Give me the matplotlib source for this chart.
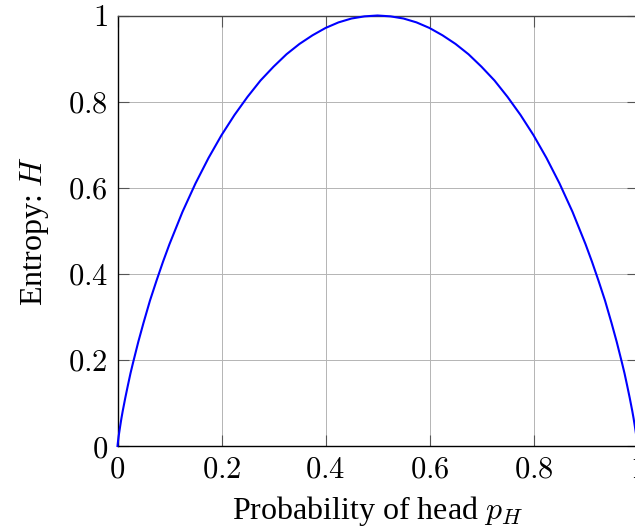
import matplotlib
matplotlib.use("Agg")
import matplotlib.pyplot as plt
from matplotlib.ticker import FuncFormatter

# binary entropy curve
p_head = [0, 0.001, 0.0025, 0.005, 0.0075, 0.01, 0.015, 0.02, 0.025, 0.03, 0.04,
          0.05, 0.0625, 0.075, 0.0875, 0.1, 0.125, 0.15, 0.175, 0.2, 0.225,
          0.25, 0.275, 0.3, 0.325, 0.35, 0.375, 0.4, 0.425, 0.45, 0.475, 0.5,
          0.525, 0.55, 0.575, 0.6, 0.625, 0.65, 0.675, 0.7, 0.725, 0.75,
          0.775, 0.8, 0.825, 0.85, 0.875, 0.9, 0.9125, 0.925, 0.9375, 0.95,
          0.96, 0.97, 0.975, 0.98, 0.985, 0.99, 0.9925, 0.995, 0.9975, 0.999, 1.0]
entropy = [0, 0.011, 0.025, 0.045, 0.064, 0.081, 0.112, 0.141, 0.169, 0.194, 0.242,
           0.286, 0.338, 0.384, 0.428, 0.469, 0.544, 0.610, 0.669, 0.722, 0.769,
           0.811, 0.849, 0.881, 0.910, 0.934, 0.954, 0.971, 0.984, 0.993, 0.998, 1.0,
           0.998, 0.993, 0.984, 0.971, 0.954, 0.934, 0.910, 0.881, 0.849, 0.811,
           0.769, 0.722, 0.669, 0.610, 0.544, 0.469, 0.428, 0.384, 0.338, 0.286,
           0.242, 0.194, 0.169, 0.141, 0.112, 0.081, 0.064, 0.045, 0.025, 0.011, 0]

x_ticks = [0, 0.2, 0.4, 0.6, 0.8, 1]
y_ticks = [0, 0.2, 0.4, 0.6, 0.8, 1]

plt.rcParams['mathtext.fontset'] = 'cm'
plt.rcParams['font.family'] = ['Liberation Serif', 'DejaVu Serif']

fig = plt.figure(figsize=(6.35, 5.32), dpi=100)
ax = fig.add_axes([117.5 / 635, 86 / 532, 520 / 635, 430.5 / 532])

ax.plot(p_head, entropy, color='#0000ff', lw=1.5, zorder=3, clip_on=False)

ax.set_xlim(0, 1)
ax.set_ylim(0, 1)
ax.set_xticks(x_ticks)
ax.set_yticks(y_ticks)
fmt = FuncFormatter(lambda v, pos: f"${v:g}$")
ax.xaxis.set_major_formatter(fmt)
ax.yaxis.set_major_formatter(fmt)
ax.tick_params(direction='in', length=8, width=0.8, color='#555555',
               top=True, right=True, labelsize=22, pad=7)

ax.grid(True, color='#b4b4b4', lw=0.7)
ax.set_axisbelow(True)
for s in ax.spines.values():
    s.set_color('black')
    s.set_linewidth(1.0)
ax.spines['top'].set_color('#444444')

ax.set_xlabel('Probability of head $p_H$', fontsize=23, labelpad=7)
ax.set_ylabel('Entropy: $H$', fontsize=23, labelpad=12)

fig.savefig('out.png', dpi=100)
